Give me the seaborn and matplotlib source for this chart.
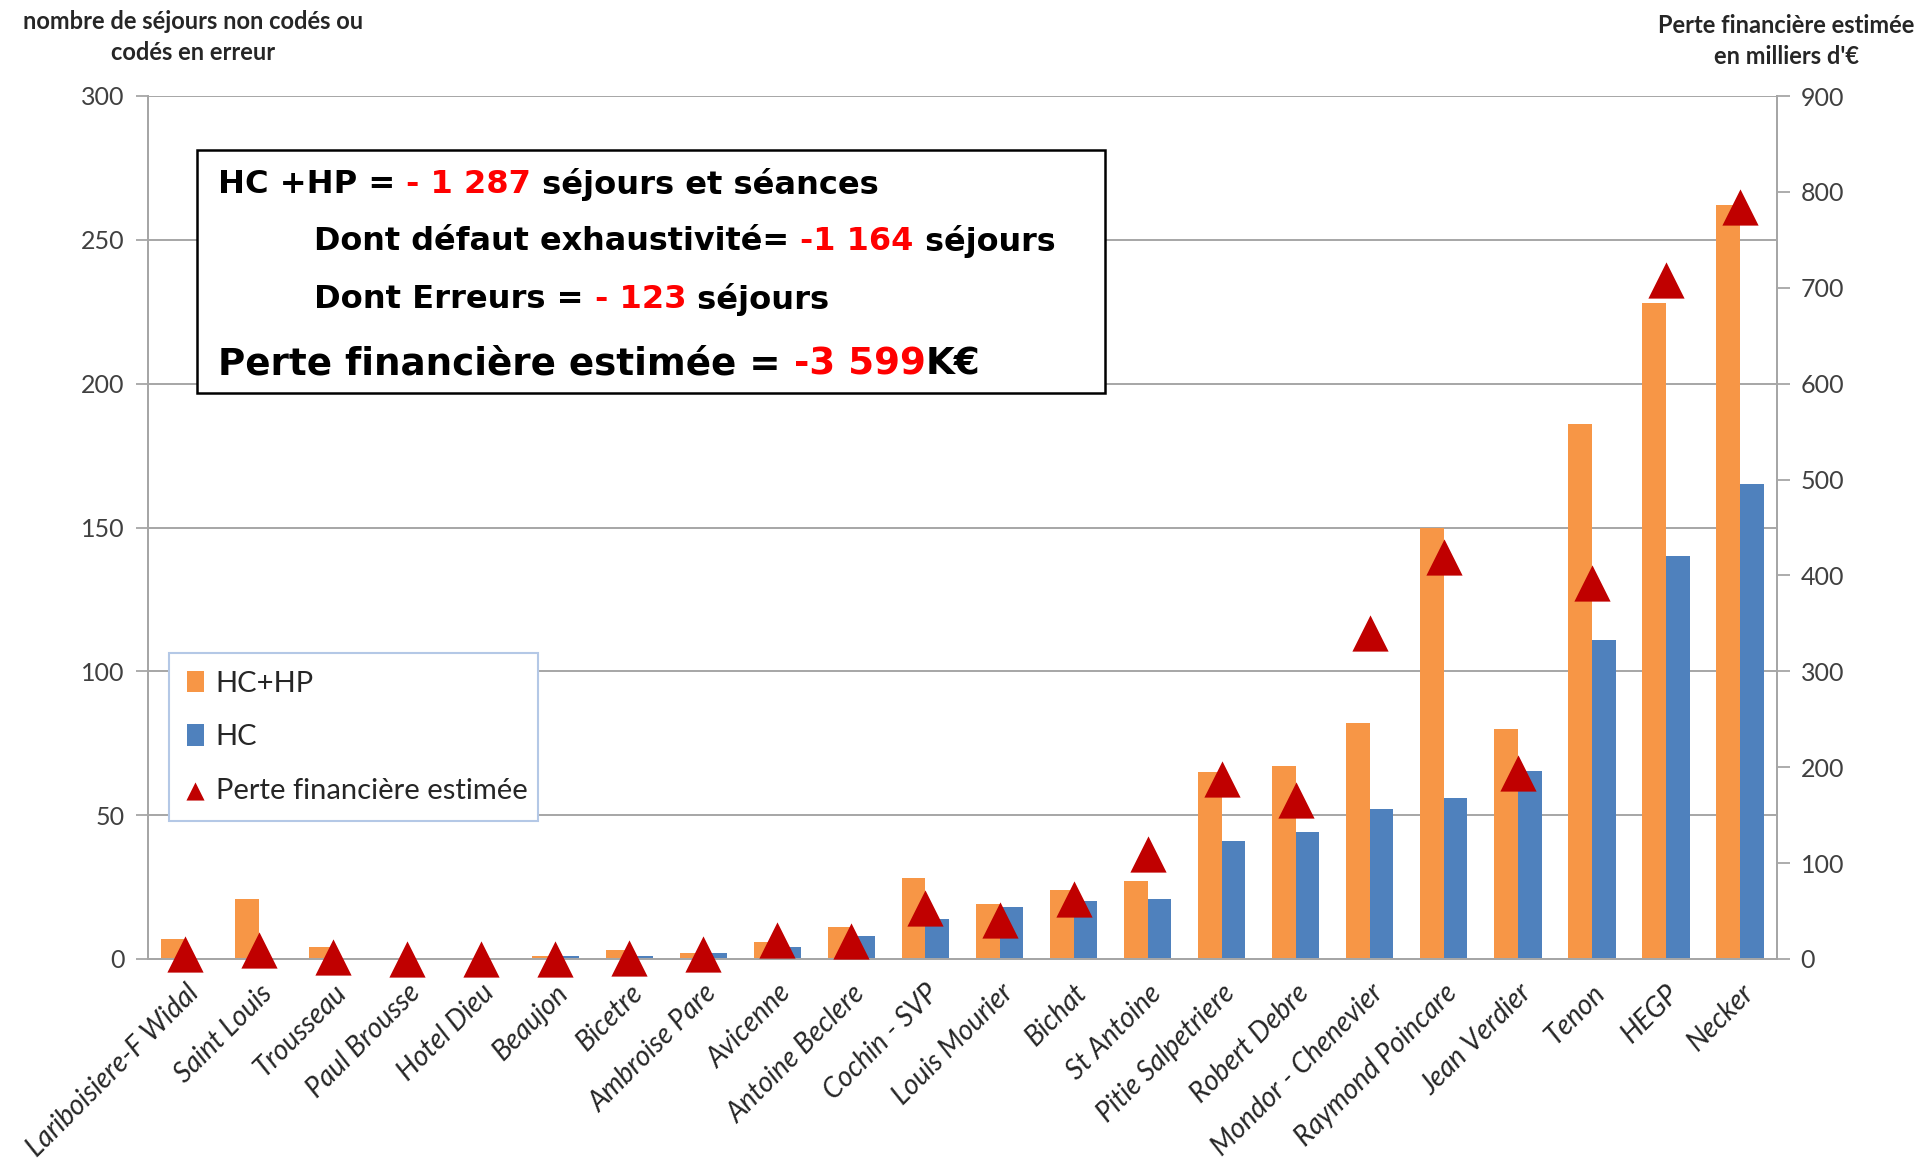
import matplotlib
matplotlib.use("Agg")
import numpy as np
import pandas as pd
import seaborn as sns
import matplotlib.pyplot as plt
from matplotlib.patches import Rectangle

# ---------------- data ----------------
sites = ["Lariboisiere-F Widal", "Saint Louis", "Trousseau", "Paul Brousse", "Hotel Dieu",
         "Beaujon", "Bicetre", "Ambroise Pare", "Avicenne", "Antoine Beclere", "Cochin - SVP",
         "Louis Mourier", "Bichat", "St Antoine", "Pitie Salpetriere", "Robert Debre",
         "Mondor - Chenevier", "Raymond Poincare", "Jean Verdier", "Tenon", "HEGP", "Necker"]
hc_hp = [7, 21, 4, 0, 0, 1, 3, 2, 6, 11, 28, 19, 24, 27, 65, 67, 82, 150, 80, 186, 228, 262]
hc = [0, 0, 0, 0, 0, 1, 1, 2, 4, 8, 14, 18, 20, 21, 41, 44, 52, 56, 65.5, 111, 140, 165]
perte = [5, 9, 2, 0, 0, 0, 1, 5, 20, 19, 53, 41, 63, 110, 188, 166, 340, 419, 194, 392, 708, 784]
series_names = ["HC+HP", "HC"]
perte_name = "Perte financière estimée"
left_title = "nombre de séjours non codés ou\ncodés en erreur"
right_title = "Perte financière estimée\nen milliers d'€"
box_lines = [
    [("HC +HP = ", "black"), ("- 1 287", "#FF0000"), (" séjours et séances", "black")],
    [("Dont défaut exhaustivité= ", "black"), ("-1 164", "#FF0000"), (" séjours", "black")],
    [("Dont Erreurs = ", "black"), ("- 123", "#FF0000"), (" séjours", "black")],
    [("Perte financière estimée = ", "black"), ("-3 599", "#FF0000"), ("K€", "black")],
]

W, H = 1932, 1167
ORANGE, BLUE, RED = "#F79646", "#4F81BD", "#C00000"
GRID = "#A6A6A6"
TXT = "#404040"

df = pd.DataFrame({
    "site": sites * 2,
    "serie": [series_names[0]] * len(sites) + [series_names[1]] * len(sites),
    "val": hc_hp + hc,
})

sns.set_theme(style="white")
plt.rcParams["font.family"] = ["Lato", "DejaVu Sans"]

fig = plt.figure(figsize=(W / 100, H / 100), dpi=100)
x0, x1, ytop, ybot = 148, 1777, 96, 959
ax = fig.add_axes([x0 / W, 1 - ybot / H, (x1 - x0) / W, (ybot - ytop) / H])

sns.barplot(data=df, x="site", y="val", hue="serie", hue_order=series_names,
            palette=[ORANGE, BLUE], width=0.64, gap=0, saturation=1,
            linewidth=0, ax=ax)
n = len(sites)
ax.set_xlim(-0.5, n - 0.5)
ax.set_ylim(0, 300)
ax.set_yticks(np.arange(0, 301, 50))
ax.set_axisbelow(True)
ax.yaxis.grid(True, color=GRID, lw=1.4)
ax.set_xlabel("")
ax.set_ylabel("")
ax.set_xticks(np.arange(n))
ax.set_xticklabels(sites, rotation=45, ha="right", rotation_mode="anchor",
                   fontsize=20, style="italic", color="#262626")
ax.set_xticks(np.arange(-0.5, n, 1), minor=True)
ax.tick_params(axis="x", which="major", length=0, pad=15)
ax.tick_params(axis="x", which="minor", length=11, width=1.3, color=GRID, direction="out")
ax.tick_params(axis="y", left=True, length=9, width=1.3, color=GRID, labelsize=18,
               labelcolor=TXT, pad=8)
for s in ["left", "bottom", "right"]:
    ax.spines[s].set_color(GRID)
    ax.spines[s].set_linewidth(1.4)
ax.spines["top"].set_visible(False)

bar_handles, bar_labels = ax.get_legend_handles_labels()
if ax.get_legend() is not None:
    ax.get_legend().remove()

ax2 = ax.twinx()
sns.scatterplot(x=np.arange(n), y=perte, marker="^", s=680, color=RED,
                edgecolor=RED, linewidth=0, ax=ax2, label=perte_name, zorder=5, clip_on=False)
ax2.set_ylim(0, 900)
ax2.set_yticks(np.arange(0, 901, 100))
ax2.tick_params(axis="y", right=True, length=9, width=1.3, color=GRID, labelsize=18,
                labelcolor=TXT, pad=8)
for s in ["left", "bottom", "right"]:
    ax2.spines[s].set_color(GRID)
    ax2.spines[s].set_linewidth(1.4)
ax2.spines["top"].set_visible(False)
sc_handles, sc_labels = ax2.get_legend_handles_labels()
if ax2.get_legend() is not None:
    ax2.get_legend().remove()

# legend
axw, axh = (x1 - x0), (ybot - ytop)
lx0, ly0, lx1, ly1 = 169, 653, 538, 816
leg = ax2.legend(bar_handles + sc_handles, bar_labels + sc_labels,
                 loc="upper left",
                 bbox_to_anchor=((lx0 - x0) / axw, (ybot - ly1) / axh,
                                 (lx1 - lx0) / axw, (ly1 - ly0) / axh),
                 mode="expand", fancybox=False, framealpha=1, edgecolor="#B4C8E6",
                 fontsize=21, handlelength=0.6, handleheight=0.75, labelspacing=0.95,
                 borderpad=0.6, handletextpad=0.4, borderaxespad=0)
leg.get_frame().set_linewidth(1.5)
for t in leg.get_texts():
    t.set_color("#262626")
leg.legend_handles[2].set_sizes([170])

# axis titles
fig.text(193 / W, 1 - 37 / H, left_title, ha="center", va="center", fontsize=17,
         weight="bold", color="#262626", linespacing=1.45)
fig.text(1786 / W, 1 - 41 / H, right_title, ha="center", va="center", fontsize=17,
         weight="bold", color="#262626", linespacing=1.45)

# annotation box
fig.patches.append(Rectangle((197 / W, 1 - 393 / H), (1105 - 197) / W, (393 - 150) / H,
                             transform=fig.transFigure, facecolor="white",
                             edgecolor="black", lw=1.8, zorder=3))

renderer = fig.canvas.get_renderer()


def text_w(s, size):
    t = fig.text(0, 0, s + "|", fontsize=size, weight="bold", family="DejaVu Sans")
    w = t.get_window_extent(renderer).width
    t.remove()
    t = fig.text(0, 0, "|", fontsize=size, weight="bold", family="DejaVu Sans")
    w -= t.get_window_extent(renderer).width
    t.remove()
    return w


def rich(parts, x_px, y_px, target_w):
    full = "".join(p for p, _ in parts)
    size = 20 * target_w / text_w(full, 20)
    prefix = ""
    for p, c in parts:
        off = text_w(prefix, size) if prefix else 0
        fig.text((x_px + off) / W, 1 - y_px / H, p, fontsize=size, weight="bold",
                 family="DejaVu Sans", color=c, ha="left", va="center_baseline", zorder=4)
        prefix += p


rich(box_lines[0], 218, 181, 660)
rich(box_lines[1], 314, 238, 743)
rich(box_lines[2], 314, 296, 516)
rich(box_lines[3], 218, 360, 762)

fig.savefig("out.png", dpi=100, facecolor="white")
